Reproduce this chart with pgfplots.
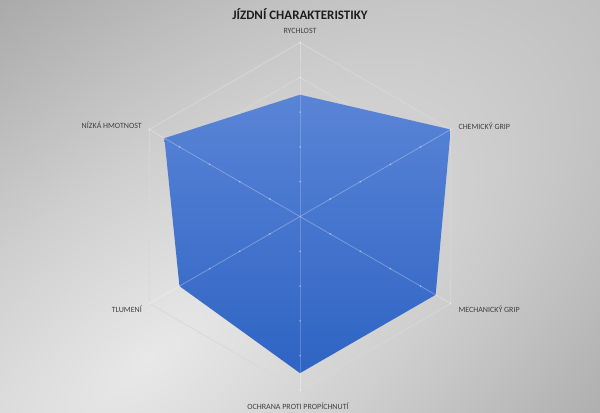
\documentclass[border=0pt]{standalone}
\usepackage{pgfplots}
\pgfplotsset{compat=1.18}
\usepgfplotslibrary{polar}
\usepackage{fontspec}
\setmainfont{Carlito}

\definecolor{bgA}{RGB}{232,232,232}
\definecolor{bgB}{RGB}{206,206,206}
\definecolor{bgC}{RGB}{166,166,166}
\definecolor{ringgray}{RGB}{216,216,216}
\definecolor{blueTop}{RGB}{90,132,214}
\definecolor{blueBot}{RGB}{46,100,196}
\definecolor{labgray}{RGB}{64,64,64}
\definecolor{titlegray}{RGB}{30,30,30}

\pgfdeclareradialshading{bgglow}{\pgfpoint{0bp}{0bp}}{color(0bp)=(bgA); color(11bp)=(bgB); color(25bp)=(bgC); color(50bp)=(bgC)}

\begin{document}
\begin{tikzpicture}[x=1bp,y=1bp]
% background
\begin{scope}
  \clip (0,0) rectangle (600,412);
  \fill[bgC] (0,0) rectangle (600,412);
  \begin{scope}[transform canvas={rotate around={38:(150,52)}}]
    \shade[shading=bgglow] (150,52) ellipse [x radius=900bp, y radius=400bp];
  \end{scope}
\end{scope}

\begin{polaraxis}[
  at={(300bp,195.5bp)}, anchor=center,
  scale only axis, width=348bp, height=348bp,
  ymin=0, ymax=10, hide axis, clip=false,
]
% rings
\addplot[ringgray, line width=0.75bp, no markers] coordinates {(90,2) (30,2) (330,2) (270,2) (210,2) (150,2) (90,2)};
\addplot[ringgray, line width=0.75bp, no markers] coordinates {(90,4) (30,4) (330,4) (270,4) (210,4) (150,4) (90,4)};
\addplot[ringgray, line width=0.75bp, no markers] coordinates {(90,6) (30,6) (330,6) (270,6) (210,6) (150,6) (90,6)};
\addplot[ringgray, line width=0.75bp, no markers] coordinates {(90,8) (30,8) (330,8) (270,8) (210,8) (150,8) (90,8)};
\addplot[ringgray, line width=0.75bp, no markers] coordinates {(90,10) (30,10) (330,10) (270,10) (210,10) (150,10) (90,10)};
% data
\addplot[draw=none, top color=blueTop, bottom color=blueBot, no markers] coordinates {
  (90,7) (30,10) (330,9) (270,9) (210,8) (150,9) (90,7)
};
% spokes
\addplot[white, opacity=0.3, line width=0.75bp, mark=*, mark size=0.5bp] coordinates {(90,10) (90,8) (90,6) (90,4) (90,2) (270,2) (270,4) (270,6) (270,8) (270,10)};
\addplot[white, opacity=0.3, line width=0.75bp, mark=*, mark size=0.5bp] coordinates {(30,10) (30,8) (30,6) (30,4) (30,2) (210,2) (210,4) (210,6) (210,8) (210,10)};
\addplot[white, opacity=0.3, line width=0.75bp, mark=*, mark size=0.5bp] coordinates {(150,10) (150,8) (150,6) (150,4) (150,2) (330,2) (330,4) (330,6) (330,8) (330,10)};
\end{polaraxis}

% titles and category labels
\node[anchor=base, inner sep=0, text=titlegray, font=\fontsize{13}{14}\selectfont\bfseries] at (300,392) {JÍZDNÍ CHARAKTERISTIKY};
\begin{scope}[every node/.style={inner sep=0, text=labgray, font=\fontsize{8}{9}\selectfont}]
  \node[anchor=base] at (300,378.7) {RYCHLOST};
  \node[anchor=base west] at (458.3,282.7) {CHEMICKÝ GRIP};
  \node[anchor=base west] at (458.3,100) {MECHANICKÝ GRIP};
  \node[anchor=base] at (298,3) {OCHRANA PROTI PROPÍCHNUTÍ};
  \node[anchor=base east] at (142,99.7) {TLUMENÍ};
  \node[anchor=base east] at (142,283.3) {NÍZKÁ HMOTNOST};
\end{scope}

\pgfresetboundingbox
\path (0,0) rectangle (600,412);
\end{tikzpicture}
\end{document}
